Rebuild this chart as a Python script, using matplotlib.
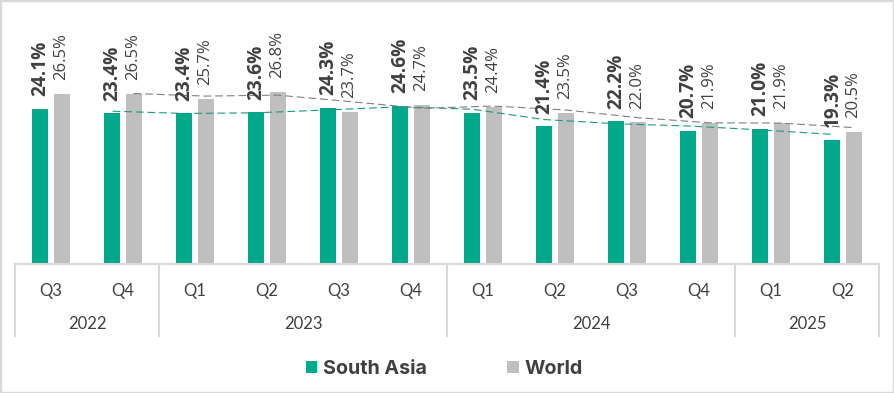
import matplotlib
matplotlib.use("Agg")
import matplotlib.pyplot as plt
import matplotlib.transforms as mtransforms
from matplotlib.patches import Patch, Rectangle
import numpy as np

quarters = ["Q3", "Q4", "Q1", "Q2", "Q3", "Q4", "Q1", "Q2", "Q3", "Q4", "Q1", "Q2"]
years = ["2022", "2023", "2024", "2025"]
year_counts = [2, 4, 4, 2]
south_asia = [24.1, 23.4, 23.4, 23.6, 24.3, 24.6, 23.5, 21.4, 22.2, 20.7, 21.0, 19.3]
world = [26.5, 26.5, 25.7, 26.8, 23.7, 24.7, 24.4, 23.5, 22.0, 21.9, 21.9, 20.5]

GREEN = "#00A88C"
GREY = "#BFBFBF"
TXT = "#404040"
LINEC = "#D9D9D9"

W, H = 894, 393
fig = plt.figure(figsize=(W / 100, H / 100), dpi=100)
ax = fig.add_axes([15 / W, 129 / H, 864 / W, 193 / H])

x = np.arange(len(quarters))
bw = 0.222
off = 0.146
ax.bar(x - off, south_asia, bw, color=GREEN, zorder=2)
ax.bar(x + off, world, bw, color=GREY, zorder=2)

# 2-period moving averages
sa = np.array(south_asia)
wo = np.array(world)
sa_ma = (sa[1:] + sa[:-1]) / 2
wo_ma = (wo[1:] + wo[:-1]) / 2
ax.plot(x[1:] - off, sa_ma, color="#1A9A82", lw=0.8, dashes=(7, 3.5), zorder=3)
ax.plot(x[1:] + off, wo_ma, color="#808080", lw=0.8, dashes=(7, 3.5), zorder=3)

ax.set_xlim(-0.5, len(quarters) - 0.5)
ax.set_ylim(0, 30)

lab_font = "Open Sans"
for xi, v in zip(x, south_asia):
    ax.annotate(f"{v:.1f}%", (xi - off, v), xytext=(0, 9), textcoords="offset points",
                rotation=90, ha="center", va="bottom", fontsize=13.7, fontweight="bold",
                color=TXT, family=lab_font, zorder=4, annotation_clip=False)
for xi, v in zip(x, world):
    ax.annotate(f"{v:.1f}%", (xi + off, v), xytext=(0, 10), textcoords="offset points",
                rotation=90, ha="center", va="bottom", fontsize=12, color=TXT,
                family=lab_font, zorder=4, annotation_clip=False)

for s in ["top", "left", "right"]:
    ax.spines[s].set_visible(False)
ax.spines["bottom"].set_color(LINEC)
ax.spines["bottom"].set_linewidth(1.5)
ax.set_yticks([])
ax.set_xticks(x)
ax.set_xticklabels(quarters, fontsize=12, color=TXT, family="Lato")
ax.tick_params(axis="x", length=0, pad=13.5)

trans = mtransforms.blended_transform_factory(ax.transData, ax.transAxes)
px = 1 / 193.0
bounds = [-0.5]
for c in year_counts:
    bounds.append(bounds[-1] + c)
for b in bounds:
    ax.plot([b, b], [0, -72 * px], transform=trans, color=LINEC, lw=1.5, clip_on=False)
for i, (yr, c) in enumerate(zip(years, year_counts)):
    cx = (bounds[i] + bounds[i + 1]) / 2
    ax.text(cx, -60 * px, yr, transform=trans, ha="center", va="center",
            fontsize=12, color=TXT, family="Lato")

handles = [Patch(facecolor=GREEN, edgecolor="none"), Patch(facecolor=GREY, edgecolor="none")]
leg = fig.legend(handles, ["South Asia", "World"], loc="center", ncol=2,
                 bbox_to_anchor=(444 / W, 1 - 369 / H), frameon=False,
                 prop={"family": "Inter", "weight": "bold", "size": 14.2},
                 handlelength=0.6, handleheight=0.6, handletextpad=0.26,
                 columnspacing=4.1, borderpad=0)
for t in leg.get_texts():
    t.set_color(TXT)

fig.patches.append(Rectangle((0, 0), 1, 1, transform=fig.transFigure, fill=False,
                             edgecolor=LINEC, lw=2.5, zorder=10))

fig.savefig("out.png", dpi=100)
